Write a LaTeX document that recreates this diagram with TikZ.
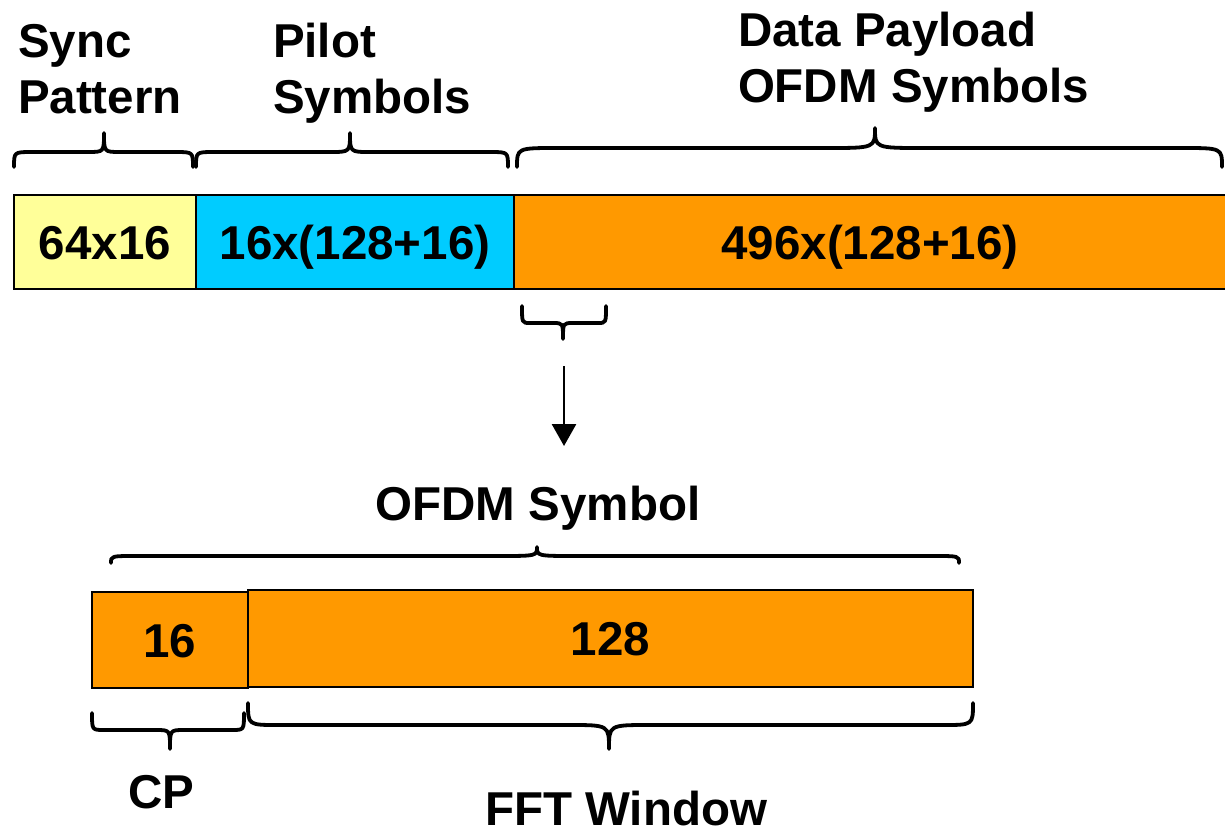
\documentclass[tikz,border=0pt]{standalone}
\usepackage{fontspec}
\setmainfont{Liberation Sans}
\usetikzlibrary{arrows.meta}
\definecolor{syncyel}{HTML}{FFFF99}
\definecolor{pilotblue}{HTML}{00CCFF}
\definecolor{dataorange}{HTML}{FF9900}
\newcommand\pptbrace[8]{% x1 x2 xm yend yflat ytip rx tx
  \draw[bracestyle] (#1,#4) .. controls (#1,#5) .. (#1+#7,#5) -- (#3-#8,#5)
    .. controls (#3,#5) .. (#3,#6) .. controls (#3,#5) .. (#3+#8,#5)
    -- (#2-#7,#5) .. controls (#2,#5) .. (#2,#4);}
\begin{document}
\begin{tikzpicture}[x=1pt,y=-1pt,
  bracestyle/.style={line width=3.8pt, line cap=round, line join=round},
  seg/.style={draw=black, line width=1.5pt, inner sep=0pt, outer sep=0pt,
    text height=34pt, text depth=0pt,
    font=\fontsize{47.5}{55}\selectfont\bfseries},
  lbl/.style={inner sep=0pt, outer sep=0pt, align=left, anchor=base west,
    font=\fontsize{47.5}{56}\selectfont\bfseries},
  clbl/.style={inner sep=0pt, outer sep=0pt, anchor=base,
    font=\fontsize{47.5}{57}\selectfont\bfseries}]
\useasboundingbox (0,0) rectangle (1225,825);
% top bar
\node[seg, fill=dataorange, minimum width=712pt, minimum height=94pt] (data) at (870,242) {496x(128+16)};
\node[seg, fill=pilotblue, minimum width=318pt, minimum height=94pt] (pilot) at (355,242) {16x(128+16)};
\node[seg, fill=syncyel, minimum width=182pt, minimum height=94pt] (sync) at (105,242) {64x16};
% top labels (anchor at baseline of last line)
\node[lbl] (synclbl) at (18,113) {Sync\\Pattern};
\node[lbl] (pilotlbl) at (273,113) {Pilot\\Symbols};
\node[lbl] (datalbl) at (738,102) {Data Payload\\OFDM Symbols};
% top braces
\pptbrace{14}{193}{104}{167}{152}{133}{18}{16}
\pptbrace{196}{508}{350}{167}{152}{133}{18}{20}
\pptbrace{517}{1222}{875}{167}{148}{128}{40}{48}
% small brace and arrow
\pptbrace{522}{606}{563}{306}{323}{339}{8}{10}
\coordinate (arrs) at (564,366);
\coordinate (arre) at (564,446);
\draw[line width=2.8pt, -{Triangle[width=24pt,length=22pt]}] (arrs) -- (arre);
% OFDM symbol
\node[clbl] (ofdmlbl) at (538,520) {OFDM Symbol};
\pptbrace{111}{959}{537}{563}{556}{547}{25}{40}
\node[seg, fill=dataorange, line width=2pt, minimum width=725pt, minimum height=97pt] (fft) at (610.5,638.5) {128};
\node[seg, fill=dataorange, line width=2pt, minimum width=156pt, minimum height=96pt] (cp) at (170,640) {16};
% bottom braces
\pptbrace{92}{244}{170}{713}{730}{749}{12}{14}
\pptbrace{248}{973}{609}{703}{725}{749}{30}{40}
\node[clbl] (cplbl) at (161,808) {CP};
\node[clbl] (fftlbl) at (626,825) {FFT Window};
\end{tikzpicture}
\end{document}
